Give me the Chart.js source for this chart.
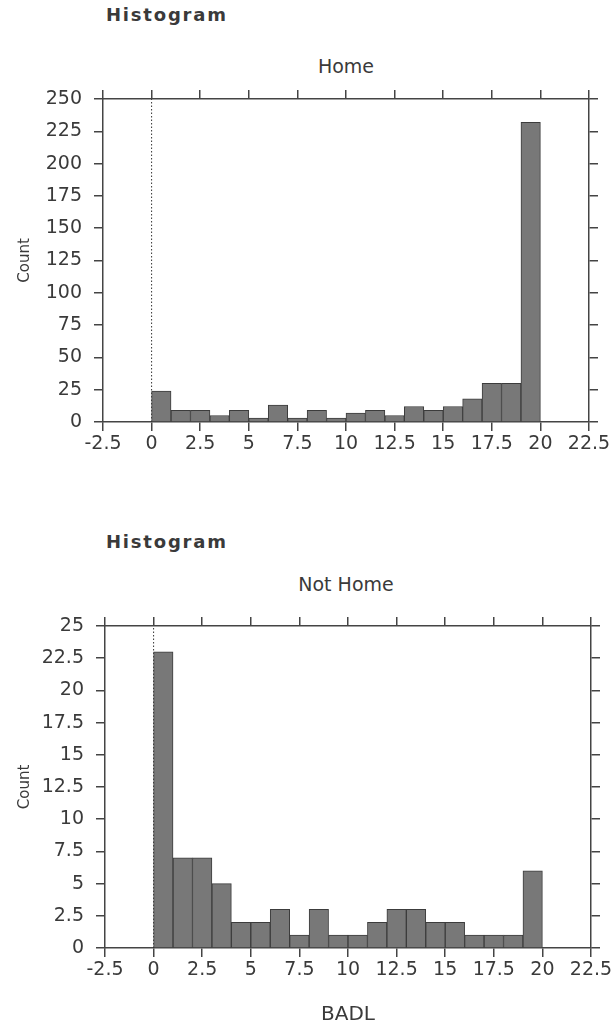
<!DOCTYPE html>
<html>
<head>
<meta charset="utf-8">
<script src="https://cdn.jsdelivr.net/npm/chart.js@4.4.1/dist/chart.umd.min.js"></script>
<style>
  body { margin: 0; background: #fff; }
  #page { position: relative; width: 615px; height: 1035px; overflow: hidden;
          font-family: "DejaVu Sans", sans-serif; color: #3a3a3a; }
  .hist { position: absolute; left: 106px; font: bold 18px "DejaVu Sans", sans-serif;
          letter-spacing: 1.8px; color: #3a3a3a; }
  .ttl  { position: absolute; left: 103px; width: 486px; text-align: center; font-size: 19px; }
  canvas { position: absolute; left: 0; }
</style>
</head>
<body>
<div id="page">
  <div class="hist" style="top:4px">Histogram</div>
  <div class="ttl" style="top:55px">Home</div>
  <canvas id="homeChart" width="615" height="470" style="top:0"></canvas>

  <div class="hist" style="top:531px">Histogram</div>
  <div class="ttl" style="top:573px">Not Home</div>
  <canvas id="notHomeChart" width="615" height="515" style="top:520px"></canvas>
</div>

<script>
/* ── data ─────────────────────────────────────── */

// BADL bins, width 1, from 0 to 20
const BIN_CENTERS = [0.5, 1.5, 2.5, 3.5, 4.5, 5.5, 6.5, 7.5, 8.5, 9.5,
                     10.5, 11.5, 12.5, 13.5, 14.5, 15.5, 16.5, 17.5, 18.5, 19.5];

const HOME_COUNTS     = [24, 9, 9, 5, 9, 3, 13, 3, 9, 3, 7, 9, 5, 12, 9, 12, 18, 30, 30, 232];
const NOT_HOME_COUNTS = [23, 7, 7, 5, 2, 2, 3, 1, 3, 1, 1, 2, 3, 3, 2, 2, 1, 1, 1, 6];

const X_TICKS          = [-2.5, 0, 2.5, 5, 7.5, 10, 12.5, 15, 17.5, 20, 22.5];
const HOME_Y_TICKS     = [0, 25, 50, 75, 100, 125, 150, 175, 200, 225, 250];
const NOT_HOME_Y_TICKS = [0, 2.5, 5, 7.5, 10, 12.5, 15, 17.5, 20, 22.5, 25];

/* ── helpers ──────────────────────────────────── */

const INK = '#444';
const tickFont = { family: '"DejaVu Sans", sans-serif', size: 19 };

function fixedTicks(list) {
  return scale => { scale.ticks = list.map(v => ({ value: v })); };
}

function axis(position, list, size, showLabels, extra) {
  const horizontal = position === 'top' || position === 'bottom';
  return Object.assign({
    type: 'linear',
    position,
    min: list[0],
    max: list[list.length - 1],
    offset: false,
    afterBuildTicks: fixedTicks(list),
    afterFit: s => { if (horizontal) s.height = size; else s.width = size; },
    grid: { drawOnChartArea: false, drawTicks: true, tickLength: 9,
            color: INK, lineWidth: 1.5, offset: false },
    border: { color: INK, width: 1.5 },
    ticks: {
      display: showLabels,
      color: '#3a3a3a',
      font: tickFont,
      padding: horizontal ? 2 : 12,
      maxRotation: 0,
      autoSkip: false,
      callback: v => String(v)
    }
  }, extra || {});
}

function buildHistogram(id, counts, yTicks, box, xTitle) {
  const canvas = document.getElementById(id);
  const W = canvas.width, H = canvas.height;
  const yMax = yTicks[yTicks.length - 1];

  new Chart(canvas, {
    data: {
      datasets: [
        {
          type: 'bar',
          data: BIN_CENTERS.map((x, i) => ({ x, y: counts[i] })),
          backgroundColor: '#787878',
          borderColor: '#3c3c3c',
          borderWidth: 1,
          barPercentage: 1,
          categoryPercentage: 1,
          order: 1
        },
        {
          // dotted reference line at BADL = 0
          type: 'line',
          data: [{ x: 0, y: 0 }, { x: 0, y: yMax }],
          borderColor: '#333',
          borderWidth: 1,
          borderDash: [1.5, 2],
          pointRadius: 0,
          order: 2
        }
      ]
    },
    options: {
      responsive: false,
      animation: false,
      layout: { padding: 0 },
      plugins: { legend: { display: false }, tooltip: { enabled: false } },
      scales: {
        x:  axis('bottom', X_TICKS, H - box.bottom, true, xTitle ? {
              title: { display: true, text: xTitle, color: '#3a3a3a',
                       font: { family: '"DejaVu Sans", sans-serif', size: 20 },
                       padding: { top: 0, bottom: 8 } }
            } : {}),
        x2: axis('top', X_TICKS, box.top, false),
        y:  axis('left', yTicks, box.left, true, {
              title: { display: true, text: 'Count', color: '#3a3a3a',
                       font: { family: '"DejaVu Sans", sans-serif', size: 15 },
                       padding: { top: 16, bottom: 0 } }
            }),
        y2: axis('right', yTicks, W - box.right, false)
      }
    }
  });
}

/* ── init ─────────────────────────────────────── */

buildHistogram('homeChart', HOME_COUNTS, HOME_Y_TICKS,
  { left: 103, right: 589, top: 99, bottom: 422 });

buildHistogram('notHomeChart', NOT_HOME_COUNTS, NOT_HOME_Y_TICKS,
  { left: 105, right: 591, top: 106, bottom: 428 }, 'BADL');
</script>
</body>
</html>
